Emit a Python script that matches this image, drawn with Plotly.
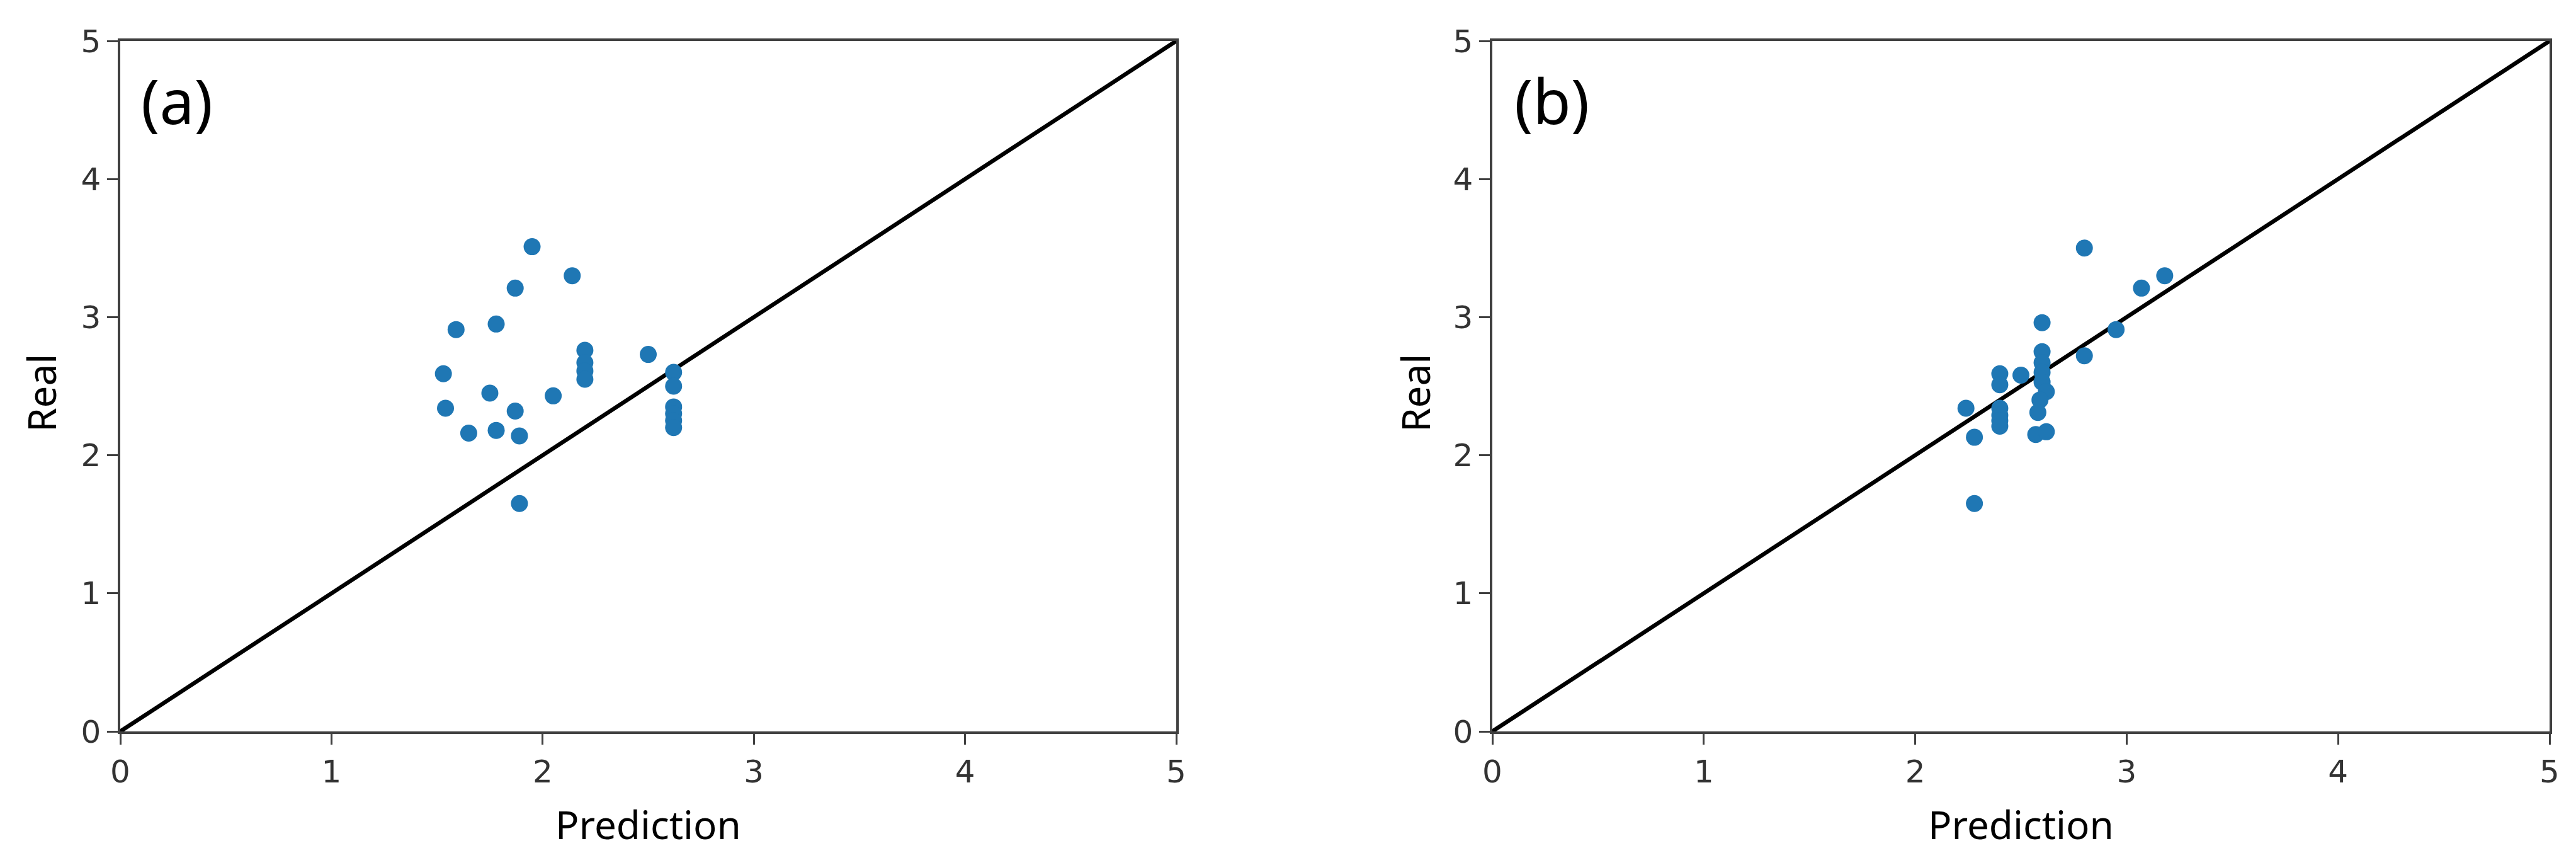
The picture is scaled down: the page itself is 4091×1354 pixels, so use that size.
import plotly.graph_objects as go

# panel (a): raw model predictions vs real values
pred_a = [1.95, 2.14, 1.87, 1.78, 1.59,
          2.20, 2.20, 2.20, 2.20,
          2.50, 1.53, 1.75, 2.05, 1.54, 1.87, 1.65, 1.78, 1.89, 1.89,
          2.62, 2.62, 2.62, 2.62, 2.62, 2.62]
real_a = [3.51, 3.30, 3.21, 2.95, 2.91,
          2.76, 2.67, 2.61, 2.55,
          2.73, 2.59, 2.45, 2.43, 2.34, 2.32, 2.16, 2.18, 2.14, 1.65,
          2.60, 2.50, 2.35, 2.30, 2.25, 2.20]

# panel (b): corrected predictions vs real values
pred_b = [2.80, 3.18, 3.07, 2.95, 2.80, 2.50, 2.24, 2.28, 2.28,
          2.40, 2.40, 2.40, 2.40, 2.40, 2.40,
          2.60, 2.60, 2.60, 2.60, 2.60, 2.62, 2.59, 2.58, 2.57, 2.62]
real_b = [3.50, 3.30, 3.21, 2.91, 2.72, 2.58, 2.34, 2.13, 1.65,
          2.59, 2.51, 2.34, 2.29, 2.25, 2.21,
          2.96, 2.75, 2.67, 2.60, 2.53, 2.46, 2.40, 2.31, 2.15, 2.17]

diag = [0, 5]
ticks = [0, 1, 2, 3, 4, 5]

W, H = 4091, 1354
blue = '#1f77b4'
spine = '#404040'
label_font = dict(family='Noto Sans', size=62, color='black')

fig = go.Figure()
for i, (px_, ry) in enumerate([(pred_a, real_a), (pred_b, real_b)]):
    xa = 'x' if i == 0 else 'x2'
    ya = 'y' if i == 0 else 'y2'
    fig.add_trace(go.Scatter(x=diag, y=diag, mode='lines', xaxis=xa, yaxis=ya,
                             line=dict(color='black', width=6.5), showlegend=False))
    fig.add_trace(go.Scatter(x=px_, y=ry, mode='markers', xaxis=xa, yaxis=ya,
                             marker=dict(color=blue, size=27, line_width=0),
                             showlegend=False))

axis_style = dict(range=[0, 5], tickvals=ticks, showgrid=False, zeroline=False,
                  showline=True, linecolor=spine, linewidth=3.5, mirror=True,
                  ticks='outside', ticklen=17, tickwidth=3, tickcolor=spine,
                  automargin=False,
                  tickfont=dict(family='DejaVu Sans', size=50, color='#333333'))

ydom = [1 - 1153 / H, 1 - 57 / H]
fig.update_layout(
    width=W, height=H, margin=dict(l=0, r=0, t=0, b=0),
    plot_bgcolor='white', paper_bgcolor='white',
    xaxis=dict(domain=[183 / W, 1860 / W], anchor='y', **axis_style),
    yaxis=dict(domain=ydom, anchor='x', **axis_style),
    xaxis2=dict(domain=[2362 / W, 4041 / W], anchor='y2', **axis_style),
    yaxis2=dict(domain=ydom, anchor='x2', **axis_style),
)

# axis titles and panel letters
for cx, lx, tag, tx in [(1021, 57, '(a)', 214), (3201, 2239, '(b)', 2395)]:
    fig.add_annotation(text='Prediction', x=cx / W, y=1 - 1300 / H, xref='paper', yref='paper',
                       showarrow=False, font=label_font, xanchor='center', yanchor='middle')
    fig.add_annotation(text='Real', x=lx / W, y=1 - 616 / H, xref='paper', yref='paper',
                       showarrow=False, font=label_font, textangle=-90,
                       xanchor='center', yanchor='middle')
    fig.add_annotation(text=tag, x=tx / W, y=1 - 151 / H,
                       xref='paper', yref='paper', showarrow=False,
                       font=dict(family='Noto Sans', size=98, color='black'),
                       xanchor='left', yanchor='middle')

fig.write_html("out.html")
